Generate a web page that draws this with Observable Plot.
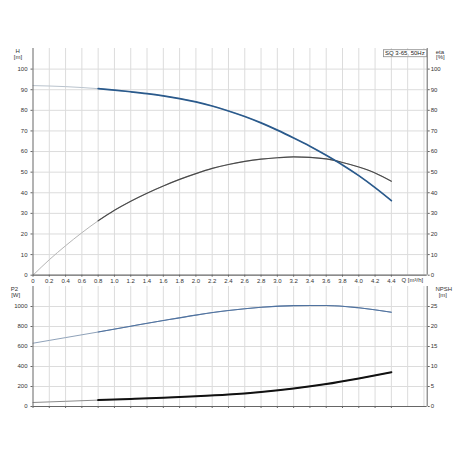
<!DOCTYPE html>
<html><head><meta charset="utf-8">
<script src="https://cdn.jsdelivr.net/npm/d3@7"></script>
<script src="https://cdn.jsdelivr.net/npm/@observablehq/plot@0.6"></script>
<style>
body{margin:0;background:#fff;}
#chart{position:relative;width:460px;height:460px;}
#chart svg{position:absolute;left:0;}
</style></head><body><div id="chart"></div>
<script>
// ---- data ----
const qTicks = [0,0.2,0.4,0.6,0.8,1.0,1.2,1.4,1.6,1.8,2.0,2.2,2.4,2.6,2.8,3.0,3.2,3.4,3.6,3.8,4.0,4.2,4.4];
const qGrid = [0.2,0.4,0.6,0.8,1.0,1.2,1.4,1.6,1.8,2.0,2.2,2.4,2.6,2.8,3.0,3.2,3.4,3.6,3.8,4.0,4.2,4.4,4.6,4.8];
const qDomain = [0, 4.84];
const hTicks = [0,10,20,30,40,50,60,70,80,90,100];
const etaTicks = [0,10,20,30,40,50,60,70,80,90,100];
const hDomain = [0, 110];
const p2Ticks = [0,200,400,600,800,1000];
const npshTicks = [0,5,10,15,20,25];
const p2Domain = [0, 1200];

const qH = [0,0.4,0.8,1.0,1.2,1.4,1.6,1.8,2.0,2.2,2.4,2.6,2.8,3.0,3.2,3.4,3.6,3.8,4.0,4.2,4.4];
const hValues = [92.0,91.5,90.5,89.8,89.0,88.1,87.0,85.7,84.1,82.1,79.7,77.0,73.9,70.4,66.6,62.6,58.2,53.5,48.3,42.5,36.2];

const qEta = [0,0.2,0.4,0.6,0.8,1.0,1.2,1.4,1.6,1.8,2.0,2.2,2.4,2.6,2.8,3.0,3.2,3.4,3.6,3.8,4.0,4.2,4.4];
const etaValues = [0,7.5,14.3,20.6,26.4,31.5,35.9,39.8,43.3,46.5,49.3,51.8,53.7,55.2,56.3,57.0,57.4,57.2,56.4,54.7,52.5,49.6,45.6];

const qP2 = [0,0.4,0.8,1.2,1.6,2.0,2.4,2.8,3.2,3.6,4.0,4.4];
const p2Values = [633,689,745,803,860,914,960,992,1009,1010,987,943];

const qNpsh = [0,0.4,0.8,1.2,1.6,2.0,2.4,2.8,3.2,3.6,4.0,4.4];
const npshValues = [1.0,1.3,1.6,1.9,2.2,2.55,3.0,3.65,4.5,5.6,7.0,8.55];

const opStart = 0.8;
const title = "SQ 3-65, 50Hz";

// ---- build ----
const ratio = p2Ticks[p2Ticks.length-1] / npshTicks[npshTicks.length-1];
const hData = qH.map((q,i)=>({q, v:hValues[i]}));
const etaData = qEta.map((q,i)=>({q, v:etaValues[i]}));
const p2Data = qP2.map((q,i)=>({q, v:p2Values[i]}));
const npshData = qNpsh.map((q,i)=>({q, v:npshValues[i]*ratio}));
const op = d => d.filter(p => p.q >= opStart);

const FONT = "'Liberation Sans', Arial, sans-serif";
const gridC = "#dcdcdc", axisC = "#666", textC = "#333";
const qFmt = d => d === 0 ? "0" : d.toFixed(1);
const CURVE = "monotone-x";
const lbl = (s, anchor, dx, dy) => Plot.text([s], {text: d=>d, frameAnchor: anchor, textAnchor: "middle", dx, dy, lineAnchor: "middle", fill: textC});

const topPlot = Plot.plot({
  width: 460, height: 290,
  marginTop: 48, marginBottom: 15.3, marginLeft: 32.5, marginRight: 33.3,
  x: {domain: qDomain}, y: {domain: hDomain},
  style: {background: "transparent", fontFamily: FONT, fontSize: "6px", color: textC},
  marks: [
    Plot.gridX(qGrid, {stroke: gridC, strokeOpacity: 1}),
    Plot.gridY(hTicks.slice(1), {stroke: gridC, strokeOpacity: 1}),
    Plot.line(hData, {x:"q", y:"v", curve:CURVE, stroke:"#b9c3cd", strokeWidth:1}),
    Plot.line(etaData, {x:"q", y:"v", curve:CURVE, stroke:"#b5b5b5", strokeWidth:1}),
    Plot.line(op(etaData), {x:"q", y:"v", curve:CURVE, stroke:"#4a4a4a", strokeWidth:1.2}),
    Plot.line(op(hData), {x:"q", y:"v", curve:CURVE, stroke:"#2a5a8c", strokeWidth:1.7}),
    Plot.ruleX([qDomain[0]], {stroke: axisC}),
    Plot.ruleX([qDomain[1]], {stroke: axisC}),
    Plot.ruleY([hDomain[0]], {stroke: axisC, strokeWidth: 1.3}),
    Plot.axisX(qTicks, {tickSize: 2, tickPadding: 1.5, tickFormat: qFmt, label: null, stroke: axisC}),
    Plot.axisY(hTicks, {anchor: "left", tickSize: 2, tickPadding: 3.5, label: null, stroke: axisC}),
    Plot.axisY(etaTicks, {anchor: "right", tickSize: 2, tickPadding: 1.5, label: null, stroke: axisC}),
    lbl("H", "top-left", -15.3, 2.7),
    lbl("[m]", "top-left", -15, 9),
    lbl("eta", "top-right", 12.7, 3.3),
    lbl("[%]", "top-right", 13.2, 9),
    Plot.text(["Q [m³/h]"], {text: d=>d, frameAnchor: "bottom-right", textAnchor: "end", dx: -4, dy: 5.3, lineAnchor: "middle", fill: textC}),
    Plot.text([title], {text: d=>d, frameAnchor: "top-right", textAnchor: "end", dx: -2.5, dy: 4.8, lineAnchor: "middle", fill: "#222", className: "titlebox"})
  ]
});
topPlot.style.top = "0px";

const bottomPlot = Plot.plot({
  width: 460, height: 150,
  marginTop: 16, marginBottom: 14, marginLeft: 32.5, marginRight: 33.3,
  x: {domain: qDomain}, y: {domain: p2Domain},
  style: {background: "transparent", fontFamily: FONT, fontSize: "6px", color: textC},
  marks: [
    Plot.gridX(qGrid, {stroke: gridC, strokeOpacity: 1}),
    Plot.gridY(p2Ticks.slice(1), {stroke: gridC, strokeOpacity: 1}),
    Plot.line(p2Data, {x:"q", y:"v", curve:CURVE, stroke:"#8fa2b9", strokeWidth:1}),
    Plot.line(op(p2Data), {x:"q", y:"v", curve:CURVE, stroke:"#4f72a0", strokeWidth:1.1}),
    Plot.line(npshData, {x:"q", y:"v", curve:CURVE, stroke:"#8a8a8a", strokeWidth:1}),
    Plot.line(op(npshData), {x:"q", y:"v", curve:CURVE, stroke:"#111", strokeWidth:2}),
    Plot.ruleX([qDomain[0]], {stroke: axisC}),
    Plot.ruleX([qDomain[1]], {stroke: axisC}),
    Plot.ruleY([p2Domain[0]], {stroke: axisC}),
    Plot.axisX(qTicks, {tickSize: 2, tickFormat: () => "", label: null, stroke: axisC}),
    Plot.axisY(p2Ticks, {anchor: "left", tickSize: 2, tickPadding: 3.5, tickFormat: d => String(d), label: null, stroke: axisC}),
    Plot.axisY(npshTicks.map(d => d*ratio), {anchor: "right", tickSize: 2, tickPadding: 1.5, tickFormat: d => String(d/ratio), label: null, stroke: axisC}),
    lbl("P2", "top-left", -18.5, 2.7),
    lbl("[W]", "top-left", -17.3, 9),
    lbl("NPSH", "top-right", 16.6, 2.2),
    lbl("[m]", "top-right", 15.6, 8.3)
  ]
});
bottomPlot.style.top = "270px";

const chart = document.getElementById("chart");
chart.appendChild(bottomPlot);
chart.appendChild(topPlot);

// frame box around the title label
const t = topPlot.querySelector(".titlebox text");
if (t) {
  const b = t.getBBox();
  const g = t.parentNode;
  const rect = document.createElementNS("http://www.w3.org/2000/svg", "rect");
  const tr = t.getAttribute("transform") || "";
  rect.setAttribute("x", b.x - 1.5); rect.setAttribute("y", b.y - 0.5);
  rect.setAttribute("width", b.width + 3.5); rect.setAttribute("height", b.height + 1);
  rect.setAttribute("fill", "#fff"); rect.setAttribute("stroke", "#8a8a8a"); rect.setAttribute("stroke-width", "0.8");
  if (tr) rect.setAttribute("transform", tr);
  g.insertBefore(rect, t);
}
</script></body></html>
